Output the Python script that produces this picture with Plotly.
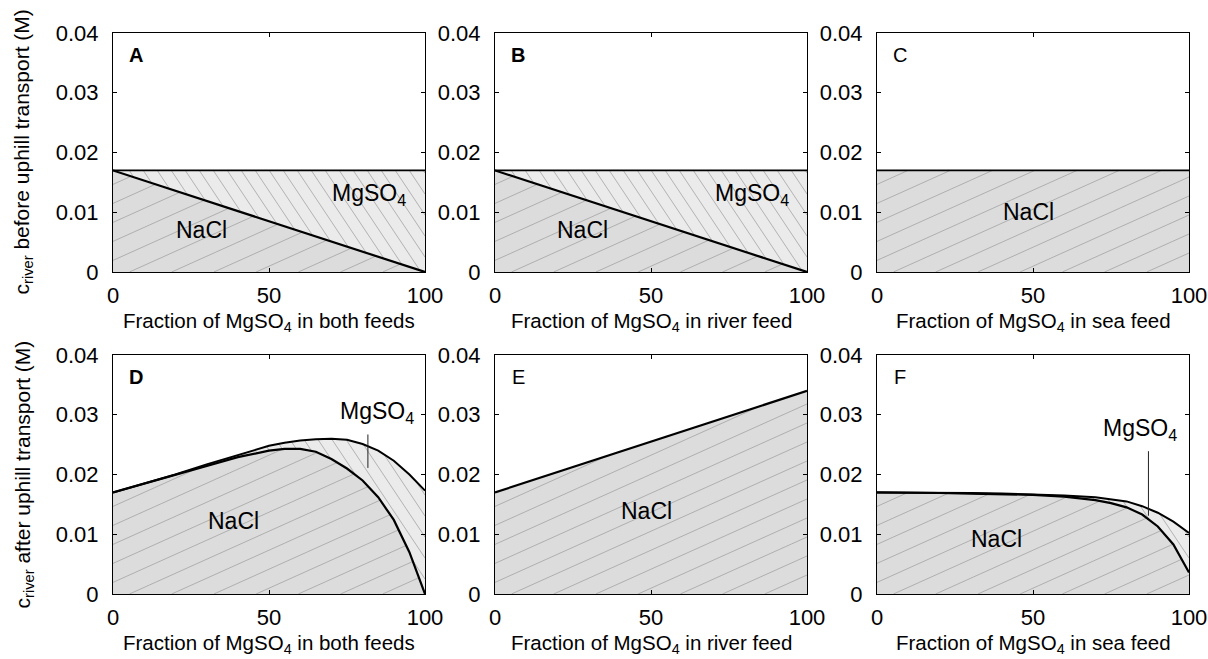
import numpy as np
import plotly.graph_objects as go

# ---------------- data ----------------
x_ab = [0, 100]
total_ab = [0.017, 0.017]
nacl_ab = [0.017, 0.0]

x_c = [0, 100]
nacl_c = [0.017, 0.017]

x_d = [0, 10, 20, 30, 40, 50, 55, 60, 65, 70, 75, 80, 85, 90, 95, 100]
total_d = [0.0170, 0.0185, 0.0200, 0.0217, 0.0233, 0.0248, 0.0253, 0.0257,
           0.0259, 0.0260, 0.0258, 0.0251, 0.0240, 0.0223, 0.0200, 0.0173]
nacl_d = [0.0170, 0.0185, 0.0199, 0.0215, 0.0229, 0.0240, 0.0243, 0.0243,
          0.0238, 0.0226, 0.0210, 0.0190, 0.0162, 0.0124, 0.0070, 0.0]

x_e = [0, 100]
nacl_e = [0.017, 0.034]

x_f = [0, 10, 20, 30, 40, 50, 60, 70, 75, 80, 85, 90, 95, 100]
total_f = [0.0170, 0.0170, 0.0169, 0.0169, 0.0168, 0.0167, 0.0165, 0.0162,
           0.0159, 0.0155, 0.0147, 0.0136, 0.0121, 0.0102]
nacl_f = [0.0170, 0.0170, 0.0169, 0.0168, 0.0167, 0.0166, 0.0163, 0.0157,
          0.0152, 0.0145, 0.0133, 0.0113, 0.0083, 0.0036]

panel_letters = ["A", "B", "C", "D", "E", "F"]
x_titles = ["both feeds", "river feed", "sea feed", "both feeds", "river feed", "sea feed"]
y_titles = ["before uphill transport (M)", "after uphill transport (M)"]
x_ticks = [0, 50, 100]
y_ticks = [0, 0.01, 0.02, 0.03, 0.04]
y_ticktext = ["0", "0.01", "0.02", "0.03", "0.04"]

panels = [
    dict(x=x_ab, nacl=nacl_ab, total=total_ab),
    dict(x=x_ab, nacl=nacl_ab, total=total_ab),
    dict(x=x_c, nacl=nacl_c, total=None),
    dict(x=x_d, nacl=nacl_d, total=total_d),
    dict(x=x_e, nacl=nacl_e, total=None),
    dict(x=x_f, nacl=nacl_f, total=total_f),
]

# ---------------- layout geometry (pixels) ----------------
W, H = 1208, 659
col_left = [113, 495, 877]
col_w = 312
row_top = [33, 355]
row_h = 239

FONT = "Liberation Sans, Arial, sans-serif"
NACL_FILL = "#dcdcdc"
MG_FILL = "#ebebeb"
HATCH = "#a3a3a3"

fig = go.Figure()


def hatch_segments(xs, lo, hi, slope_px, spacing_px, kx, ky, pw, ph):
    xf = np.linspace(0, 100, 1601)
    lo_f = np.interp(xf, xs, lo)
    hi_f = np.interp(xf, xs, hi)
    xp = xf * kx
    cmin = min(0, -slope_px * pw) - spacing_px
    cmax = max(ph, ph - slope_px * pw) + spacing_px
    X, Y = [], []
    for c in np.arange(cmin, cmax, spacing_px):
        y = (slope_px * xp + c) / ky
        m = (y >= lo_f - 1e-9) & (y <= hi_f + 1e-9) & (y >= 0) & (y <= 0.04)
        if not m.any():
            continue
        idx = np.where(m)[0]
        splits = np.where(np.diff(idx) > 1)[0]
        starts = np.concatenate([[idx[0]], idx[splits + 1]])
        ends = np.concatenate([idx[splits], [idx[-1]]])
        for s, e in zip(starts, ends):
            if e > s:
                X += [xf[s], xf[e], None]
                Y += [y[s], y[e], None]
    return X, Y


annotations = []
shapes = []
layout_axes = {}

for i, p in enumerate(panels):
    r, c = divmod(i, 3)
    xa = "x" if i == 0 else f"x{i+1}"
    ya = "y" if i == 0 else f"y{i+1}"
    xkey = "xaxis" if i == 0 else f"xaxis{i+1}"
    ykey = "yaxis" if i == 0 else f"yaxis{i+1}"
    x0 = col_left[c]
    y0 = row_top[r]
    layout_axes[xkey] = dict(
        domain=[x0 / W, (x0 + col_w) / W], anchor=ya, range=[0, 100],
        tickvals=x_ticks, ticks="inside", ticklen=4, tickcolor="black",
        showline=True, linecolor="black", linewidth=1, mirror="ticks",
        showgrid=False, zeroline=False, automargin=False, ticklabelstandoff=4,
        tickfont=dict(family=FONT, size=22, color="black"), fixedrange=True)
    layout_axes[ykey] = dict(
        domain=[1 - (y0 + row_h) / H, 1 - y0 / H], anchor=xa, range=[0, 0.04],
        tickvals=y_ticks, ticktext=y_ticktext, ticks="inside", ticklen=4,
        tickcolor="black", showline=True, linecolor="black", linewidth=1,
        mirror="ticks", showgrid=False, zeroline=False, ticklabelstandoff=9,
        automargin=False,
        tickfont=dict(family=FONT, size=22, color="black"), fixedrange=True)

    kx = col_w / 100.0
    ky = row_h / 0.04
    xs = p["x"]
    nacl = p["nacl"]
    total = p["total"]

    # fills
    fig.add_trace(go.Scatter(x=xs, y=nacl, xaxis=xa, yaxis=ya, mode="lines",
                             fill="tozeroy", fillcolor=NACL_FILL,
                             line=dict(width=0, color=NACL_FILL),
                             hoverinfo="skip", showlegend=False))
    if total is not None:
        fig.add_trace(go.Scatter(x=xs, y=total, xaxis=xa, yaxis=ya, mode="lines",
                                 fill="tonexty", fillcolor=MG_FILL,
                                 line=dict(width=0, color=MG_FILL),
                                 hoverinfo="skip", showlegend=False))
    # hatch
    hx, hy = hatch_segments(xs, [0] * len(xs), nacl, 0.45, 19, kx, ky, col_w, row_h)
    fig.add_trace(go.Scatter(x=hx, y=hy, xaxis=xa, yaxis=ya, mode="lines",
                             line=dict(width=0.8, color=HATCH),
                             hoverinfo="skip", showlegend=False))
    if total is not None:
        hx, hy = hatch_segments(xs, nacl, total, -1.5, 21, kx, ky, col_w, row_h)
        fig.add_trace(go.Scatter(x=hx, y=hy, xaxis=xa, yaxis=ya, mode="lines",
                                 line=dict(width=0.8, color=HATCH),
                                 hoverinfo="skip", showlegend=False))
    # boundary lines
    if total is not None:
        fig.add_trace(go.Scatter(x=xs, y=total, xaxis=xa, yaxis=ya, mode="lines",
                                 line=dict(width=1.8 if r == 0 else 2, color="black"),
                                 hoverinfo="skip", showlegend=False))
    fig.add_trace(go.Scatter(x=xs, y=nacl, xaxis=xa, yaxis=ya, mode="lines",
                             line=dict(width=2.2 if total is not None or r == 1 else 1.8,
                                       color="black"),
                             hoverinfo="skip", showlegend=False))

    # panel letter
    bold = panel_letters[i] in ("A", "B", "D")
    txt = f"<b>{panel_letters[i]}</b>" if bold else panel_letters[i]
    annotations.append(dict(x=7.5, y=0.0363, xref=xa, yref=ya, text=txt,
                            showarrow=False, xanchor="center", yanchor="middle",
                            font=dict(family=FONT, size=20, color="black")))
    # x title
    annotations.append(dict(
        x=(x0 + col_w / 2) / W, y=1 - (y0 + row_h + 50) / H, xref="paper", yref="paper",
        text=f"Fraction of MgSO<sub>4</sub> in {x_titles[i]}", showarrow=False,
        xanchor="center", yanchor="middle", font=dict(family=FONT, size=20.5, color="black")))

# region labels
label_pos = {
    0: [("NaCl", 28.3, 0.0070), ("MgSO<sub>4</sub>", 82.1, 0.0130)],
    1: [("NaCl", 28.1, 0.0070), ("MgSO<sub>4</sub>", 82.4, 0.0130)],
    2: [("NaCl", 48.4, 0.0100)],
    3: [("NaCl", 38.5, 0.0122), ("MgSO<sub>4</sub>", 84.5, 0.0303)],
    4: [("NaCl", 48.6, 0.0139)],
    5: [("NaCl", 38.4, 0.0092), ("MgSO<sub>4</sub>", 84.2, 0.0275)],
}
for i, labs in label_pos.items():
    xa = "x" if i == 0 else f"x{i+1}"
    ya = "y" if i == 0 else f"y{i+1}"
    for t, lx, ly in labs:
        annotations.append(dict(x=lx, y=ly, xref=xa, yref=ya, text=t, showarrow=False,
                                xanchor="center", yanchor="middle",
                                font=dict(family=FONT, size=23, color="black")))

# leader lines
leaders = {3: (81.7, 0.0211, 0.0267), 5: (87.0, 0.0131, 0.0239)}
for i, (lx, ly0, ly1) in leaders.items():
    xa = f"x{i+1}"
    ya = f"y{i+1}"
    shapes.append(dict(type="line", xref=xa, yref=ya, x0=lx, x1=lx, y0=ly0, y1=ly1,
                       line=dict(color="#222222", width=1)))

# y titles
for r in range(2):
    yc = row_top[r] + row_h / 2
    annotations.append(dict(
        x=23 / W, y=1 - yc / H, xref="paper", yref="paper", textangle=-90,
        text=f"c<sub>river</sub> {y_titles[r]}", showarrow=False,
        xanchor="center", yanchor="middle", font=dict(family=FONT, size=21, color="black")))

fig.update_layout(
    width=W, height=H, margin=dict(l=0, r=0, t=0, b=0),
    paper_bgcolor="white", plot_bgcolor="white",
    annotations=annotations, shapes=shapes, showlegend=False,
    **layout_axes)

fig.write_html(
    "out.html",
    config={"displayModeBar": False},
    post_script="document.body.style.margin='0px';"
                "document.documentElement.style.overflow='hidden';")
